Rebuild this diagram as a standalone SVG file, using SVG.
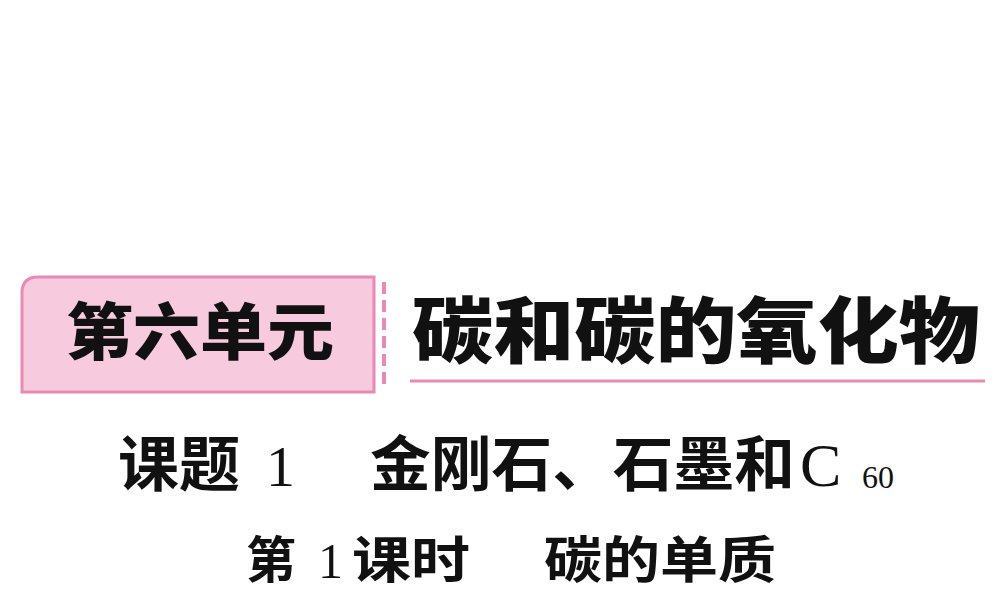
<svg xmlns="http://www.w3.org/2000/svg" width="1000" height="600" viewBox="0 0 1000 600">
<style>
.t{font-family:"Noto Sans CJK SC",sans-serif;fill:#111}
.b{font-weight:900}
.s{font-family:"Liberation Serif","Noto Sans CJK SC",serif;fill:#111}
</style>
<rect width="1000" height="600" fill="#fff"/>
<g id="unit">
<path d="M38,277 H374 V392 H22 V293 Q22,277 38,277 Z" fill="#f7cade" stroke="#e88ab3" stroke-width="3"/>
<text class="t b" x="66" y="355" font-size="62" textLength="268" lengthAdjust="spacingAndGlyphs">第六单元</text>
</g>
<line x1="384" y1="282" x2="384" y2="390" stroke="#e88ab3" stroke-width="4" stroke-dasharray="12,6"/>
<g id="title">
<text class="t b" x="412" y="357" font-size="72" textLength="568" lengthAdjust="spacingAndGlyphs">碳和碳的氧化物</text>
<line x1="410" y1="381" x2="985" y2="381" stroke="#e88ab3" stroke-width="3"/>
</g>
<g id="lesson">
<text class="t" x="118" y="486" font-size="60" font-weight="bold" textLength="122" lengthAdjust="spacingAndGlyphs">课题</text>
<text class="s" x="266" y="486" font-size="58">1</text>
<text class="t" x="370" y="486" font-size="60" font-weight="bold" textLength="425" lengthAdjust="spacingAndGlyphs">金刚石、石墨和</text>
<text class="s" x="800" y="486" font-size="62">C</text>
<text class="s" x="862" y="488" font-size="32">60</text>
</g>
<g id="sub">
<text class="t" x="246" y="578" font-size="50" font-weight="bold">第</text>
<text class="s" x="318" y="578" font-size="50">1</text>
<text class="t" x="352" y="578" font-size="50" font-weight="bold" textLength="118" lengthAdjust="spacingAndGlyphs">课时</text>
<text class="t" x="544" y="578" font-size="50" font-weight="bold" textLength="232" lengthAdjust="spacingAndGlyphs">碳的单质</text>
</g>
</svg>
